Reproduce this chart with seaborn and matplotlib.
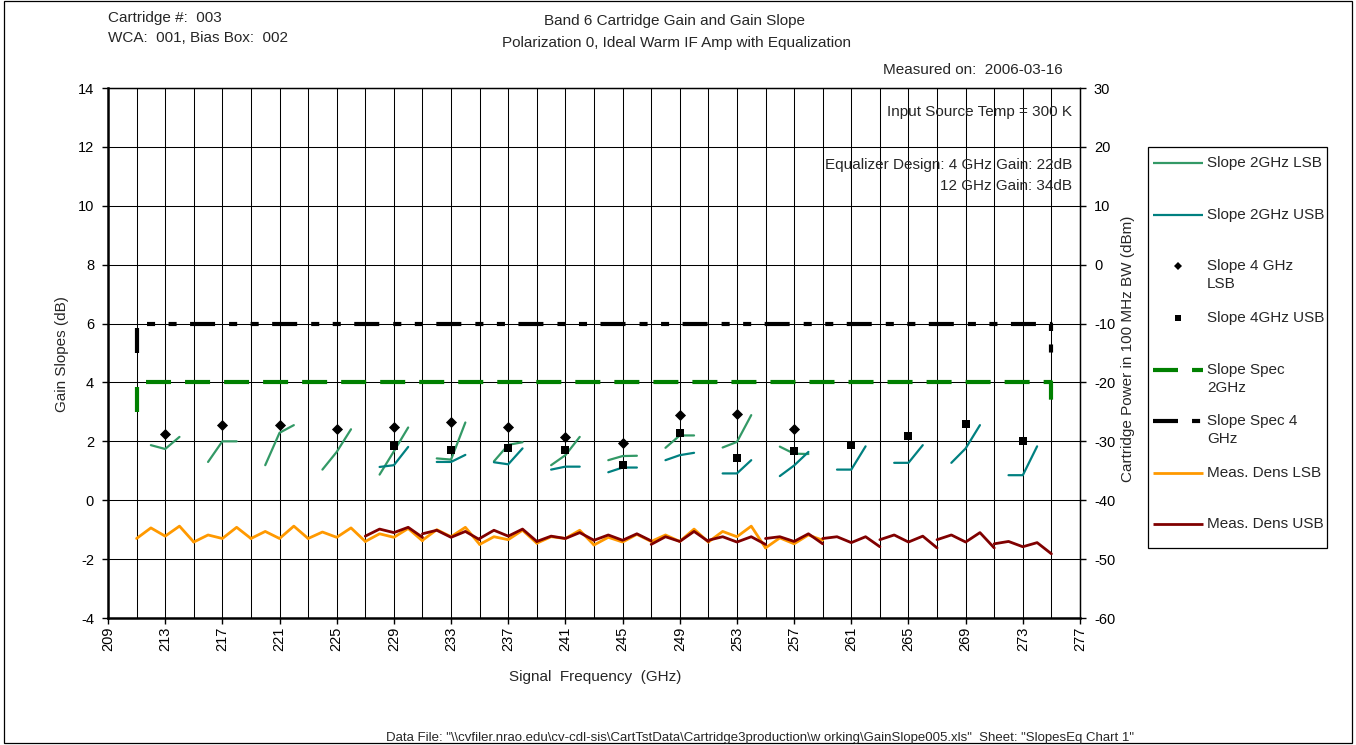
import numpy as np
import pandas as pd
import matplotlib
matplotlib.use("Agg")
import matplotlib.pyplot as plt
import seaborn as sns
from matplotlib.lines import Line2D
from matplotlib.patches import Rectangle

# ---------------- data ----------------
# centre frequencies (GHz) of the gain-slope groups
lsb_centres = [213, 217, 221, 225, 229, 233, 237, 241, 245, 249, 253, 257]
usb_centres = [229, 233, 237, 241, 245, 249, 253, 257, 261, 265, 269, 273]
slope_offsets = [-1, 0, 1]

# 2 GHz slopes (dB) at centre-1, centre, centre+1
slope2_lsb = [
    [1.87, 1.74, 2.15],
    [1.30, 2.00, 2.00],
    [1.19, 2.29, 2.55],
    [1.04, 1.64, 2.41],
    [0.87, 1.66, 2.47],
    [1.42, 1.38, 2.64],
    [1.32, 1.88, 1.97],
    [1.19, 1.53, 2.15],
    [1.36, 1.50, 1.51],
    [1.78, 2.20, 2.20],
    [1.79, 1.98, 2.89],
    [1.82, 1.58, 1.57],
]
slope2_usb = [
    [1.13, 1.19, 1.81],
    [1.30, 1.30, 1.54],
    [1.29, 1.22, 1.76],
    [1.04, 1.14, 1.14],
    [0.95, 1.11, 1.11],
    [1.36, 1.53, 1.61],
    [0.91, 0.91, 1.36],
    [0.82, 1.18, 1.64],
    [1.04, 1.04, 1.83],
    [1.27, 1.27, 1.87],
    [1.27, 1.76, 2.55],
    [0.85, 0.85, 1.83],
]
# 4 GHz slopes (dB) at the centre frequencies
slope4_lsb = [2.24, 2.56, 2.56, 2.42, 2.47, 2.64, 2.48, 2.15, 1.96, 2.89, 2.93, 2.42]
slope4_usb = [1.85, 1.70, 1.78, 1.72, 1.21, 2.27, 1.45, 1.66, 1.86, 2.17, 2.58, 2.02]

# slope specification limits
spec_freqs = [211, 211, 275, 275]
spec_2g = [3, 4, 4, 3]
spec_4g = [5, 6, 6, 5]

# measured power density (dBm in 100 MHz), one 4 GHz sweep per LO setting
dens_step = [0, 1, 2, 3, 4]
dens_lsb_starts = [211, 215, 219, 223, 227, 231, 235, 239, 243, 247, 251, 255]
dens_lsb = [
    [-46.5, -44.7, -46.1, -44.4, -47.1],
    [-47.1, -45.9, -46.5, -44.6, -46.5],
    [-46.5, -45.3, -46.5, -44.4, -46.5],
    [-46.5, -45.4, -46.3, -44.7, -47.0],
    [-47.0, -45.7, -46.3, -44.8, -46.9],
    [-46.8, -45.0, -46.2, -44.6, -47.5],
    [-47.5, -46.2, -46.7, -45.1, -47.3],
    [-47.3, -46.2, -46.5, -45.1, -47.6],
    [-47.6, -46.3, -47.1, -45.8, -47.0],
    [-47.0, -45.9, -47.0, -44.9, -47.1],
    [-47.1, -45.3, -46.2, -44.4, -48.1],
    [-48.1, -46.4, -47.4, -45.9, -46.8],
]
dens_usb_starts = [227, 231, 235, 239, 243, 247, 251, 255, 259, 263, 267, 271]
dens_usb = [
    [-46.1, -44.9, -45.5, -44.6, -46.3],
    [-45.7, -45.1, -46.3, -45.3, -46.7],
    [-46.5, -45.1, -46.1, -44.9, -47.0],
    [-47.0, -46.1, -46.5, -45.5, -46.8],
    [-46.8, -45.9, -46.8, -45.7, -46.9],
    [-47.5, -46.2, -47.0, -45.3, -47.0],
    [-46.8, -46.2, -47.1, -46.2, -47.5],
    [-46.5, -46.2, -47.0, -45.7, -47.4],
    [-46.5, -46.2, -47.2, -46.2, -47.9],
    [-46.7, -45.9, -47.1, -46.1, -48.1],
    [-46.7, -45.9, -47.1, -45.5, -48.1],
    [-47.4, -47.0, -47.9, -47.2, -49.1],
]

x_ticks = list(range(209, 278, 4))
y_ticks = list(range(-4, 15, 2))
y2_ticks = list(range(-60, 31, 10))

# ---------------- styling ----------------
C_LSB2 = "#339966"
C_USB2 = "#008080"
C_SPEC2 = "#008000"
C_SPEC4 = "#000000"
C_DLSB = "#FF9900"
C_DUSB = "#800000"

sns.set_style("ticks")
plt.rcParams["font.family"] = ["Liberation Sans", "DejaVu Sans"]
plt.rcParams["font.size"] = 11
plt.rcParams["axes.unicode_minus"] = False
plt.rcParams["lines.scale_dashes"] = False

TXT = 11
W, H = 1356, 745
fig = plt.figure(figsize=(W / 100, H / 100), dpi=100)


def fx(px):
    return px / W


def fy(py):
    return 1 - py / H


ax = fig.add_axes([fx(108), fy(618), fx(1080) - fx(108), fy(88) - fy(618)])
ax2 = ax.twinx()


def segments(centres, offsets, values):
    rows = []
    for i, (c, vals) in enumerate(zip(centres, values)):
        for o, v in zip(offsets, vals):
            rows.append({"seg": i, "freq": c + o, "val": v})
    return pd.DataFrame(rows)


dash2 = (0, (18.0, 10.1))
dash4 = (0, (18.0, 10.1, 5.8, 9.7, 5.8, 9.7))

# slope specification lines
spec_df = pd.DataFrame({"freq": spec_freqs, "s2": spec_2g, "s4": spec_4g})
sns.lineplot(data=spec_df, x="freq", y="s2", sort=False, estimator=None,
             color=C_SPEC2, lw=3.0, linestyle=dash2, ax=ax, legend=False)
sns.lineplot(data=spec_df, x="freq", y="s4", sort=False, estimator=None,
             color=C_SPEC4, lw=3.0, linestyle=dash4, ax=ax, legend=False)

# 2 GHz slope segments
sns.lineplot(data=segments(lsb_centres, slope_offsets, slope2_lsb), x="freq", y="val",
             units="seg", estimator=None, sort=False, color=C_LSB2, lw=1.6,
             ax=ax, legend=False)
sns.lineplot(data=segments(usb_centres, slope_offsets, slope2_usb), x="freq", y="val",
             units="seg", estimator=None, sort=False, color=C_USB2, lw=1.6,
             ax=ax, legend=False)

# 4 GHz slope points
sns.scatterplot(x=lsb_centres, y=slope4_lsb, marker="D", s=32, color="black",
                linewidth=0, ax=ax, legend=False, zorder=4)
sns.scatterplot(x=usb_centres, y=slope4_usb, marker="s", s=32, color="black",
                linewidth=0, ax=ax, legend=False, zorder=4)

# power density on the secondary axis
sns.lineplot(data=segments(dens_lsb_starts, dens_step, dens_lsb), x="freq", y="val",
             units="seg", estimator=None, sort=False, color=C_DLSB, lw=2.0,
             ax=ax2, legend=False)
sns.lineplot(data=segments(dens_usb_starts, dens_step, dens_usb), x="freq", y="val",
             units="seg", estimator=None, sort=False, color=C_DUSB, lw=2.0,
             ax=ax2, legend=False)

# ---------------- axes ----------------
ax.set_xlim(209, 277)
ax.set_ylim(-4, 14)
ax2.set_ylim(-60, 30)
ax.set_xticks(x_ticks)
ax.set_xticks(list(range(211, 277, 4)), minor=True)
ax.set_yticks(y_ticks)
ax2.set_yticks(y2_ticks)
ax.set_xticklabels([str(v) for v in x_ticks], rotation=90)
ax.set_axisbelow(True)
ax.grid(True, which="both", axis="x", color="black", lw=0.75)
ax.grid(True, which="major", axis="y", color="black", lw=0.75)
ax2.grid(False)
ax.set_xlabel("")
ax.set_ylabel("")
ax2.set_ylabel("")

ax.tick_params(axis="x", which="major", direction="out", length=4, width=1,
               pad=2, labelsize=10.5, colors="black")
ax.tick_params(axis="x", which="minor", length=0)
ax.tick_params(axis="y", direction="out", length=4, width=1, pad=6,
               labelsize=10.5, colors="black")
ax2.tick_params(axis="y", direction="out", length=4, width=1, pad=6,
                labelsize=10.5, colors="black")

for a in (ax, ax2):
    for side, sp in a.spines.items():
        sp.set_visible(True)
        sp.set_color("black")
        sp.set_linewidth(0.9)
ax.spines["left"].set_linewidth(1.8)
ax.spines["bottom"].set_linewidth(1.8)
ax2.spines["left"].set_visible(False)
ax2.spines["bottom"].set_visible(False)

# ---------------- text ----------------
fig.text(fx(108), fy(18), "Cartridge #:  003", ha="left", va="center", fontsize=TXT)
fig.text(fx(108), fy(38), "WCA:  001, Bias Box:  002", ha="left", va="center", fontsize=TXT)
fig.text(fx(674), fy(21), "Band 6 Cartridge Gain and Gain Slope", ha="center",
         va="center", fontsize=TXT)
fig.text(fx(677), fy(43), "Polarization 0, Ideal Warm IF Amp with Equalization",
         ha="center", va="center", fontsize=TXT)
fig.text(fx(1063), fy(70), "Measured on:  2006-03-16", ha="right", va="center", fontsize=TXT)
fig.text(fx(1072), fy(112), "Input Source Temp = 300 K", ha="right", va="center", fontsize=TXT)
fig.text(fx(1072), fy(165), "Equalizer Design: 4 GHz Gain: 22dB", ha="right",
         va="center", fontsize=TXT)
fig.text(fx(1072), fy(186), "12 GHz Gain: 34dB", ha="right", va="center", fontsize=TXT)
fig.text(fx(595), fy(677), "Signal  Frequency  (GHz)", ha="center", va="center", fontsize=TXT)
fig.text(fx(62), fy(354), "Gain Slopes (dB)", ha="center", va="center",
         rotation=90, fontsize=TXT)
fig.text(fx(1128), fy(349), "Cartridge Power in 100 MHz BW (dBm)", ha="center",
         va="center", rotation=90, fontsize=TXT)
fig.text(fx(760), fy(738),
         'Data File: "\\\\cvfiler.nrao.edu\\cv-cdl-sis\\CartTstData\\Cartridge3production'
         '\\w orking\\GainSlope005.xls"  Sheet: "SlopesEq Chart 1"',
         ha="center", va="center", fontsize=9.5)

# ---------------- legend ----------------
fig.add_artist(Rectangle((fx(1148), fy(548)), fx(1327) - fx(1148), fy(147) - fy(548),
                         transform=fig.transFigure, facecolor="white",
                         edgecolor="black", lw=0.9))
legend_rows = [
    (["Slope 2GHz LSB"], 163, dict(color=C_LSB2, lw=1.6)),
    (["Slope 2GHz USB"], 215, dict(color=C_USB2, lw=1.6)),
    (["Slope 4 GHz", "LSB"], 266, dict(marker="D", ms=4.5, color="black", lw=0)),
    (["Slope 4GHz USB"], 318, dict(marker="s", ms=4.5, color="black", lw=0)),
    (["Slope Spec", "2GHz"], 370, dict(color=C_SPEC2, lw=3.0, linestyle=dash2)),
    (["Slope Spec 4", "GHz"], 421, dict(color=C_SPEC4, lw=3.0, linestyle=dash4)),
    (["Meas. Dens LSB"], 473, dict(color=C_DLSB, lw=2.0)),
    (["Meas. Dens USB"], 524, dict(color=C_DUSB, lw=2.0)),
]
for lines, y0, style in legend_rows:
    if style.get("lw", 1) == 0:
        handle = Line2D([fx(1178)], [fy(y0)], transform=fig.transFigure,
                        linestyle="none", marker=style["marker"], ms=style["ms"],
                        color=style["color"], markeredgewidth=0)
    else:
        handle = Line2D([fx(1153), fx(1203)], [fy(y0), fy(y0)], transform=fig.transFigure,
                        color=style["color"], lw=style["lw"],
                        linestyle=style.get("linestyle", "-"),
                        dash_capstyle="butt", solid_capstyle="butt")
    fig.add_artist(handle)
    for k, line in enumerate(lines):
        fig.text(fx(1207), fy(y0 + 18 * k), line, ha="left", va="center", fontsize=TXT)

# chart frame
fig.add_artist(Rectangle((fx(4), fy(743)), fx(1352) - fx(4), fy(0.5) - fy(743),
                         transform=fig.transFigure, facecolor="none",
                         edgecolor="black", lw=0.9))

fig.savefig("out.png", dpi=100)
